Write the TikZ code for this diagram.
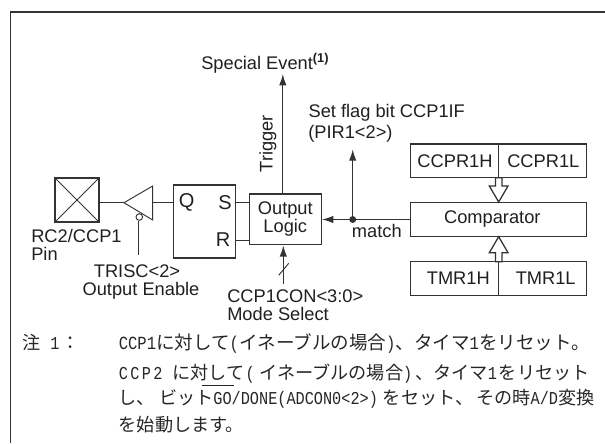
\documentclass[tikz,border=0pt]{standalone}
\usepackage{fontspec}
\setmainfont{Liberation Sans}
\newfontfamily\jpf{Noto Sans CJK JP}
\newfontfamily\nrw[FakeStretch=0.84]{Liberation Mono}
\usetikzlibrary{arrows.meta}
\newlength\pxu \setlength\pxu{0.75pt}
\newcommand\pk[1]{\kern#1\pxu}
\tikzset{
 x=0.75pt,y=-0.75pt,
 wire/.style={line width=0.95pt,draw=black!80},
 boxn/.style={draw=black!80,line width=0.95pt,inner sep=0pt,font=\fontsize{13.7}{13.5}\selectfont,text=black!88},
 lbl/.style={inner sep=0pt,font=\fontsize{13.7}{13.5}\selectfont,text=black!88},
 arr/.style={wire,-{Latex[length=8.5pt,width=5.5pt]}},
 note/.style={inner sep=0pt,anchor=base west,font=\jpf\fontsize{13.6}{14}\selectfont,text=black!85},
 hollow/.style={draw=black!80,line width=0.95pt,fill=white}
}
\begin{document}
\begin{tikzpicture}
\useasboundingbox (0,0) rectangle (605,443);
\draw[wire] (10.5,443) -- (10.5,12) -- (605,12);
% pin
\node[boxn,minimum width=33pt,minimum height=33pt] (pin) at (77,200) {};
\draw[line width=0.6pt,draw=black!80] (pin.north west)--(pin.south east) (pin.north east)--(pin.south west);
\node[lbl,anchor=base west] (pinl) at (31,242) {RC2/CCP1};
\node[lbl,anchor=base west] (pinp) at (31,260.5) {Pin};
% buffer
\draw[line width=0.7pt,draw=black!80] (152.7,186) -- (152.7,220) -- (124,202.7) -- cycle;
\coordinate (bufL) at (124,202.7);
\coordinate (bufR) at (152.7,202.7);
\coordinate (oet) at (138.5,220.5);
\coordinate (oen) at (138.5,255);
\draw[line width=0.7pt,draw=black!80] (139.3,217) circle (3.3);
\draw[wire] (pin.east|-bufL) -- (bufL);
\draw[wire] (oet) -- (oen);
\node[lbl,anchor=base] (tr) at (137,277.7) {TRISC<2>};
\node[lbl,anchor=base] (oe) at (141,295.7) {Output Enable};
% FF
\node[boxn,minimum width=46.2pt,minimum height=54.75pt] (ff) at (204.5,221.5) {};
\draw[wire] (bufR) -- (ff.west|-bufR);
\node[lbl,font=\fontsize{15}{15}\selectfont] (q) at (186.7,202.5) {Q};
\node[lbl,font=\fontsize{15}{15}\selectfont] (s) at (225,202.5) {S};
\node[lbl,font=\fontsize{15}{15}\selectfont] (r) at (223,239.5) {R};
% logic
\node[boxn,minimum width=54pt,minimum height=38pt,align=center] (ol) at (285.3,219.3) {Output\\Logic};
\coordinate (sw) at (235,202.7);
\coordinate (rw) at (235,240.7);
\draw[wire] (sw) -- (ol.west|-sw);
\draw[wire] (rw) -- (ol.west|-rw);
% top arrow
\node[lbl,anchor=base west] (se) at (201,69) {Special Event\textsuperscript{\textbf{(1)}}};
\coordinate (tt) at (282.8,74);
\draw[arr] (ol.north-|tt) -- (tt);
\node[lbl,rotate=90] (trg) at (268,143.5) {Trigger};
% mode select
\coordinate (ms) at (283.3,284);
\draw[arr] (ms) -- (ol.south-|ms);
\draw[line width=0.7pt,draw=black!80] (278.7,275.3) -- (288.7,263.3);
\node[lbl,anchor=base west] (cc) at (227,302) {CCP1CON<3:0>};
\node[lbl,anchor=base west] (mo) at (227,320) {Mode Select};
% registers
\node[boxn,minimum width=131.7pt,minimum height=25.3pt] (cr) at (498.5,160.8) {};
\node[boxn,minimum width=131.7pt,minimum height=25.3pt] (cmp) at (498.5,219.5) {};
\node[boxn,minimum width=131.7pt,minimum height=25.3pt] (tm) at (498.5,278.3) {};
\draw[wire] (cr.north) -- (cr.south);
\draw[wire] (tm.north) -- (tm.south);
\node[lbl] (cmpt) at (492.3,219.5) {Comparator};
\node[lbl] (crh) at (455,160.8) {CCPR1H};
\node[lbl] (crl) at (543.3,160.8) {CCPR1L};
\node[lbl] (tmh) at (458.3,278.3) {TMR1H};
\node[lbl] (tml) at (545.7,278.3) {TMR1L};
% hollow arrows
\draw[hollow] (495.5,177.7) -- (502,177.7) -- (502,186) -- (508,186) -- (498.7,202) -- (489.3,186) -- (495.5,186) -- cycle;
\draw[hollow] (495.5,261.7) -- (502,261.7) -- (502,252.7) -- (508,252.7) -- (498.7,236.7) -- (489.3,252.7) -- (495.5,252.7) -- cycle;
% match
\node[circle,fill=black!80,minimum size=5.2pt,inner sep=0pt] (dot) at (352.7,219.5) {};
\draw[arr] (cmp.west) -- (ol.east|-cmp.west);
\coordinate (flag) at (352.7,149.3);
\draw[arr] (dot) -- (flag);
\node[lbl,anchor=base west] (m) at (351.7,237.3) {match};
\node[lbl,anchor=base west] (f1) at (308.3,117) {Set flag bit CCP1IF};
\node[lbl,anchor=base west] (f2) at (308,138) {(PIR1<2>)};
% notes
\node[note] (n0) at (22,349) {注\pk{10}{\nrw 1}\pk{2}：};
\node[note,font=\jpf\fontsize{13.9}{14}\selectfont] (n1) at (118.5,349) {{\nrw CCP1}に対して{\nrw (}イネーブルの場合{\nrw )}、タイマ{\nrw 1}をリセット。};
\node[note] (n2) at (118.5,379.5) {{\nrw C\pk{2.4}C\pk{2.4}P\pk{2.4}2}\pk{10}に対して\pk{1}{\nrw (}\pk{4.5}イネーブルの場合{\nrw )}\pk{3}、タイマ{\nrw 1}\pk{2}をリセット};
\node[note] (n3) at (118.5,404) {し、\pk{4}ビット{\nrw GO/DONE(ADCON0<2>)}\pk{5}をセット、\pk{3}その時{\nrw A/D}変換};
\node[note] (n4) at (118.5,431) {を始動します。};
\draw[line width=0.7pt,draw=black!85] (201.7,385.7) -- (234.3,385.7);
\end{tikzpicture}
\end{document}
